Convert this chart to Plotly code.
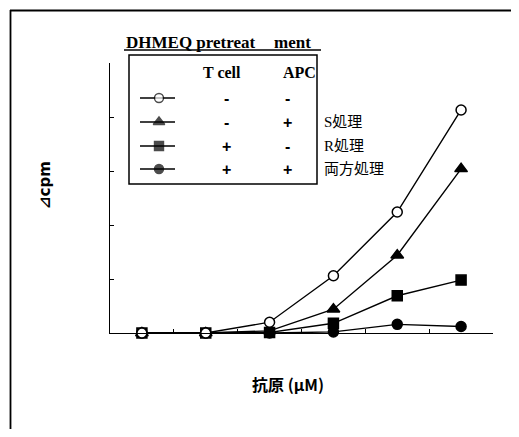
import plotly.graph_objects as go

# ---- data (y in arbitrary Δcpm units, 5 tick intervals) ----
antigen_levels = ["c1", "c2", "c3", "c4", "c5", "c6"]
untreated = [0.0, 0.0, 0.20, 1.06, 2.24, 4.13]        # T cell -, APC -
apc_treated = [0.0, 0.0, 0.04, 0.44, 1.44, 3.04]      # T cell -, APC +  (S処理)
tcell_treated = [0.0, 0.0, 0.01, 0.18, 0.69, 0.98]    # T cell +, APC -  (R処理)
both_treated = [0.0, 0.0, 0.0, 0.02, 0.16, 0.12]      # T cell +, APC +  (両方処理)

series_names = ["untreated", "APC", "T cell", "both"]
tcell_signs = ["-", "-", "+", "+"]
apc_signs = ["-", "+", "-", "+"]
side_labels = ["", "S処理", "R処理", "両方処理"]
y_ticks = [0, 1, 2, 3, 4, 5]

OFF = 8                      # page body margin
W, H = 519 - 2 * OFF, 437 - 2 * OFF
L, R, T, B = 110, 493, 63, 333  # plot area in window pixels


def px(x):
    return (x - L) / (R - L)


def py(y):
    return (B - y) / (B - T)


styles = {
    "untreated": dict(symbol="circle", color="white", size=10),
    "APC": dict(symbol="triangle-up", color="black", size=11),
    "T cell": dict(symbol="square", color="black", size=10),
    "both": dict(symbol="circle", color="black", size=10),
}
values = {"untreated": untreated, "APC": apc_treated, "T cell": tcell_treated, "both": both_treated}

fig = go.Figure()
for name in ["APC", "T cell", "both", "untreated"]:
    st = styles[name]
    fig.add_trace(go.Scatter(
        x=antigen_levels, y=values[name], mode="lines+markers", name=name,
        line=dict(color="black", width=1.4),
        marker=dict(symbol=st["symbol"], size=st["size"], color=st["color"],
                    line=dict(color="black", width=1.5)),
        cliponaxis=False, showlegend=False,
    ))

# legend samples on an overlay axis in pixel units
row_y = [98, 122, 146, 169]
for name, yy in zip(series_names, row_y):
    st = styles[name]
    fig.add_trace(go.Scatter(
        x=[140, 159, 175], y=[yy, yy, yy], mode="lines+markers", xaxis="x2", yaxis="y2",
        line=dict(color="black", width=1.5),
        marker=dict(symbol=st["symbol"], size=[0, st["size"] - 1, 0], color=st["color"],
                    line=dict(color="black", width=1.4)),
        showlegend=False, hoverinfo="skip",
    ))

shapes = [
    # outer frame (top and left edges)
    dict(type="line", xref="paper", yref="paper", x0=px(10), x1=px(525), y0=py(10.5), y1=py(10.5),
         line=dict(color="black", width=1.8)),
    dict(type="line", xref="paper", yref="paper", x0=px(10.5), x1=px(10.5), y0=py(10), y1=py(445),
         line=dict(color="black", width=1.8)),
    # legend box
    dict(type="rect", xref="paper", yref="paper", x0=px(129), x1=px(317), y0=py(184), y1=py(55),
         line=dict(color="black", width=1.5), fillcolor="rgba(0,0,0,0)"),
    # title underline
    dict(type="line", xref="paper", yref="paper", x0=px(124), x1=px(321), y0=py(50), y1=py(50),
         line=dict(color="black", width=1.5)),
]

SERIF = "Liberation Serif, Times New Roman, serif"
serif_b = dict(family=SERIF, size=16, color="black")
ann = [
    dict(text="<b>DHMEQ pretreat</b>", x=px(124), y=py(42), xanchor="left", yanchor="middle",
         font=dict(family=SERIF, size=17, color="black")),
    dict(text="<b>ment</b>", x=px(313), y=py(42), xanchor="right", yanchor="middle",
         font=dict(family=SERIF, size=17, color="black")),
    dict(text="<b>T cell</b>", x=px(222), y=py(72), xanchor="center", yanchor="middle", font=serif_b),
    dict(text="<b>APC</b>", x=px(299), y=py(72), xanchor="center", yanchor="middle", font=serif_b),
    dict(text="<b>⊿cpm</b>", x=px(45), y=py(185), textangle=-90, xanchor="center", yanchor="middle",
         font=dict(family="DejaVu Sans, Liberation Sans", size=15, color="black")),
    dict(text="<b>抗原 (μM)</b>", x=px(288), y=py(384), xanchor="center", yanchor="middle",
         font=dict(family="Noto Sans CJK JP", size=16, color="black")),
]
for yy, ts, as_, lab in zip(row_y, tcell_signs, apc_signs, side_labels):
    ann.append(dict(text=f"<b>{ts}</b>", x=px(226), y=py(yy), xanchor="center", yanchor="middle",
                    font=dict(family="Liberation Sans", size=16, color="black")))
    ann.append(dict(text=f"<b>{as_}</b>", x=px(287), y=py(yy), xanchor="center", yanchor="middle",
                    font=dict(family="Liberation Sans", size=16, color="black")))
    if lab:
        ann.append(dict(text=lab, x=px(322), y=py(yy), xanchor="left", yanchor="middle",
                        font=dict(family="Liberation Serif, Noto Sans CJK JP", size=15, color="black")))
for a in ann:
    a.update(xref="paper", yref="paper", showarrow=False)

fig.update_layout(
    width=W, height=H,
    margin=dict(l=L - OFF, r=W - (R - OFF), t=T - OFF, b=H - (B - OFF), pad=0),
    paper_bgcolor="white", plot_bgcolor="white",
    shapes=shapes, annotations=ann,
    xaxis=dict(type="category", range=[-0.5, 5.5], showgrid=False, zeroline=False,
               showline=True, linecolor="black", linewidth=1.3,
               ticks="inside", ticklen=4, tickcolor="black", tickson="boundaries",
               showticklabels=False),
    yaxis=dict(range=[0, 5], tickvals=y_ticks, showgrid=False, zeroline=False,
               showline=True, linecolor="black", linewidth=1.3,
               ticks="inside", ticklen=4, tickcolor="black", showticklabels=False),
    xaxis2=dict(range=[L, R], domain=[0, 1], overlaying="x", anchor="y2", visible=False),
    yaxis2=dict(range=[B, T], domain=[0, 1], overlaying="y", anchor="x2", visible=False),
)

fig.write_html("out.html")
